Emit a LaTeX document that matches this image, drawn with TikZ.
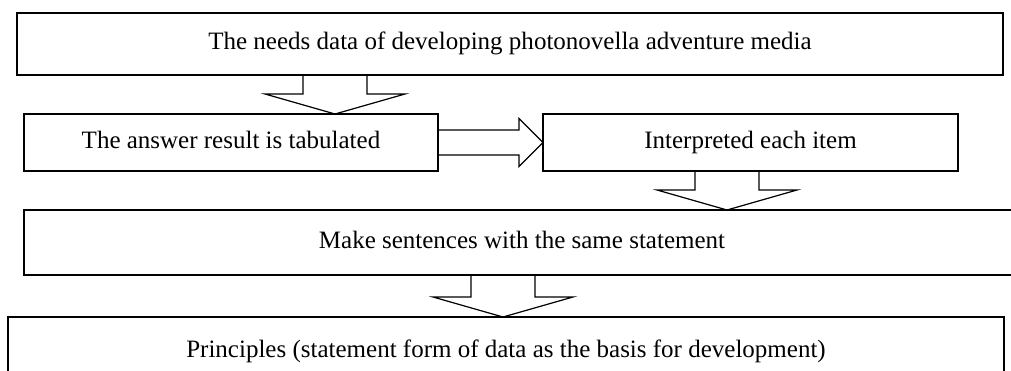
\documentclass[tikz,border=0pt]{standalone}
\usepackage{fontspec}
\setmainfont{Liberation Serif}
\usepackage{tikz}
\usetikzlibrary{positioning}

% hollow block arrow pointing down: #1 = tail point, #2 = tip point
\newcommand{\blockdown}[2]{%
  \draw[blk] ([xshift=-32pt]#1) -- ([xshift=-32pt,yshift=20pt]#2) -- ([xshift=-70pt,yshift=20pt]#2)
    -- (#2) -- ([xshift=70pt,yshift=20pt]#2) -- ([xshift=32pt,yshift=20pt]#2) -- ([xshift=32pt]#1);}

\begin{document}
\begin{tikzpicture}[
  x=1pt, y=-1pt,
  box/.style={draw, line width=1.5pt, inner sep=0pt, outer sep=0pt, align=center,
    text height=17pt, text depth=6pt, font=\fontsize{25}{30}\selectfont},
  blk/.style={draw, line width=1.2pt, line join=miter}
]
\useasboundingbox (0,0) rectangle (1011,370);
\node[box, minimum width=986pt, minimum height=62pt] (need) at (510,44) {The needs data of developing photonovella adventure media};
\node[box, minimum width=414pt, minimum height=57pt, below right=39pt and 7pt of need.south west] (tabulate) {The answer result is tabulated};
\node[box, minimum width=415pt, minimum height=57pt, right=105pt of tabulate.north east, anchor=north west] (interpret) {Interpreted each item};
\node[box, minimum width=996pt, minimum height=65pt, below right=39pt and 0pt of tabulate.south west] (sentence) {Make sentences with the same statement};
\node[box, minimum width=996pt, minimum height=70pt, below right=42pt and -16pt of sentence.south west] (principle) {Principles (statement form of data as the basis for development)};
\coordinate (d1tail) at (need.south -| 335,0);
\coordinate (d1tip) at (tabulate.north -| 335,0);
\coordinate (d2tail) at (interpret.south -| 727,0);
\coordinate (d2tip) at (sentence.north -| 727,0);
\coordinate (d3tail) at (sentence.south -| 503,0);
\coordinate (d3tip) at (principle.north -| 503,0);
\blockdown{d1tail}{d1tip}
\blockdown{d2tail}{d2tip}
\blockdown{d3tail}{d3tip}
% block arrow to the right, between the two middle boxes
\draw[blk] ([yshift=12.5pt]tabulate.east) -- ([xshift=-24pt,yshift=12.5pt]interpret.west) -- ([xshift=-24pt,yshift=24pt]interpret.west)
  -- (interpret.west) -- ([xshift=-24pt,yshift=-24pt]interpret.west) -- ([xshift=-24pt,yshift=-12.5pt]interpret.west) -- ([yshift=-12.5pt]tabulate.east);
\end{tikzpicture}
\end{document}
